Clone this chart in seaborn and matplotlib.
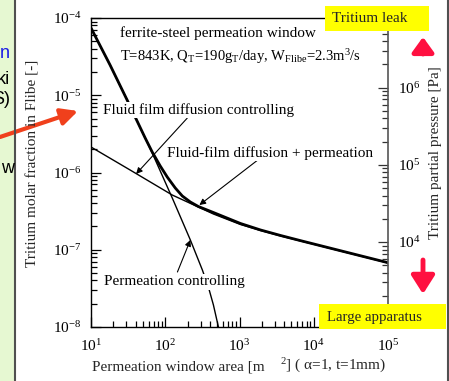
import numpy as np
import pandas as pd
import matplotlib
matplotlib.use("Agg")
import matplotlib.pyplot as plt
import seaborn as sns
from matplotlib.ticker import LogLocator, NullFormatter
from matplotlib.patches import Rectangle, FancyArrowPatch
from matplotlib.lines import Line2D

# ---- data: tritium molar fraction in Flibe vs permeation window area [m^2] ----
# permeation controlling
area_perm = [10, 18.06, 30.65, 39.33, 66.73, 124.3, 217.7, 316.2, 381.1, 445.3, 520.2]
frac_perm = [7.43e-5, 2.46e-5, 8.68e-6, 5.23e-6, 1.79e-6, 4.68e-7, 1.34e-7,
             5.47e-8, 3.29e-8, 1.93e-8, 1.0e-8]

# fluid film diffusion controlling
area_film = [10, 33.65, 124.3, 445.3, 1031.6, 1922, 3582, 6674, 1.0e5]
frac_film = [2.138e-6, 1.077e-6, 5.11e-7, 2.903e-7, 2.122e-7, 1.775e-7,
             1.507e-7, 1.298e-7, 6.74e-8]

# fluid-film diffusion + permeation
area_both = [10, 18.06, 30.65, 39.33, 53.67, 66.73, 85.6, 106.4, 136.5, 169.7,
             217.7, 279.2, 445.3, 1031.6, 1922, 3582, 6674, 1.0e5]
frac_both = [7.43e-5, 2.464e-5, 8.68e-6, 5.23e-6, 2.797e-6, 1.842e-6, 1.214e-6,
             8.74e-7, 6.30e-7, 4.965e-7, 4.150e-7, 3.630e-7, 3.035e-7,
             2.187e-7, 1.802e-7, 1.529e-7, 1.310e-7, 6.80e-8]

# partial pressure [Pa] per unit molar fraction (right-hand axis)
pressure_per_fraction = 10 ** 10.9

x_ticks = [1e1, 1e2, 1e3, 1e4, 1e5]
y_ticks = [1e-8, 1e-7, 1e-6, 1e-5, 1e-4]
p_ticks = [1e4, 1e5, 1e6]

df = pd.concat([
    pd.DataFrame({"area": area_perm, "frac": frac_perm, "model": "perm"}),
    pd.DataFrame({"area": area_film, "frac": frac_film, "model": "film"}),
    pd.DataFrame({"area": area_both, "frac": frac_both, "model": "both"}),
], ignore_index=True)

sns.set_style("ticks")
plt.rcParams["font.family"] = ["Liberation Serif", "DejaVu Serif"]
plt.rcParams["mathtext.fontset"] = "custom"
plt.rcParams["mathtext.rm"] = "Liberation Serif"
plt.rcParams["mathtext.it"] = "Liberation Serif:italic"
plt.rcParams["mathtext.default"] = "regular"

W, H = 449, 381
fig = plt.figure(figsize=(W / 100, H / 100), dpi=100)
fig.patch.set_facecolor("white")

ax = fig.add_axes([91 / W, 1 - 327 / H, 297 / W, 309 / H])
ax.set_xscale("log")
ax.set_yscale("log")

sns.lineplot(data=df[df.model == "perm"], x="area", y="frac", ax=ax,
             color="black", lw=1.0, sort=False, estimator=None)
sns.lineplot(data=df[df.model == "film"], x="area", y="frac", ax=ax,
             color="black", lw=1.0, sort=False, estimator=None)
sns.lineplot(data=df[df.model == "both"], x="area", y="frac", ax=ax,
             color="black", lw=2.0, sort=False, estimator=None)
for ln in ax.lines:
    ln.set_solid_joinstyle("round")

ax.set_xlim(x_ticks[0], x_ticks[-1])
ax.set_ylim(y_ticks[0], y_ticks[-1])
ax.set_xlabel("")
ax.set_ylabel("")
ax.set_xticks(x_ticks)
ax.set_yticks(y_ticks)
ax.xaxis.set_minor_locator(LogLocator(base=10, subs=np.arange(2, 10)))
ax.yaxis.set_minor_locator(LogLocator(base=10, subs=np.arange(2, 10)))
ax.xaxis.set_minor_formatter(NullFormatter())
ax.yaxis.set_minor_formatter(NullFormatter())
ax.tick_params(which="both", direction="in", top=False, right=False,
               width=0.9, colors="black", labelsize=11)
ax.tick_params(which="major", length=7)
ax.tick_params(which="minor", length=4)
ax.tick_params(axis="y", pad=7)
ax.tick_params(axis="x", pad=8)
for s in ["left", "bottom", "top"]:
    ax.spines[s].set_linewidth(1.0)
    ax.spines[s].set_color("black")
ax.spines["right"].set_visible(False)

# right-hand axis: tritium partial pressure
ax2 = ax.twinx()
ax2.set_yscale("log")
ax2.set_ylim(y_ticks[0] * pressure_per_fraction, y_ticks[-1] * pressure_per_fraction)
ax2.set_yticks(p_ticks)
ax2.yaxis.set_minor_locator(LogLocator(base=10, subs=np.arange(2, 10)))
ax2.yaxis.set_minor_formatter(NullFormatter())
ax2.tick_params(which="both", direction="in", width=0.9, colors="#333333",
                labelcolor="black", labelsize=11, pad=7)
ax2.tick_params(which="major", length=7)
ax2.tick_params(which="minor", length=4)
for s in ["left", "bottom", "top"]:
    ax2.spines[s].set_visible(False)
ax2.spines["right"].set_color("#555555")
ax2.spines["right"].set_linewidth(1.2)

# annotations
txt = dict(color="black", transform=ax.transAxes, va="center")
ax.text(0.098, 0.950, "ferrite-steel permeation window", fontsize=11, **txt)
ax.text(0.098, 0.874,
        r"T=843K, Q$_{\rm T}$=190g$_{\rm T}$/day, W$_{\rm Flibe}$=2.3m$^{3}$/s",
        fontsize=10.5, **txt)
box = dict(facecolor="white", edgecolor="none", pad=1)
ax.text(0.041, 0.702, "Fluid film diffusion controlling", bbox=box, zorder=5,
        fontsize=11, **txt)
ax.text(0.257, 0.563, "Fluid-film diffusion + permeation", bbox=box, zorder=5,
        fontsize=11, **txt)
ax.text(0.044, 0.146, "Permeation controlling", bbox=box, zorder=5,
        fontsize=11, **txt)

arr = dict(arrowstyle="-|>", lw=0.8, color="black", mutation_scale=9,
           shrinkA=0, shrinkB=0)
ax.annotate("", xy=(40.5, 9.57e-7), xycoords="data",
            xytext=(0.324, 0.676), textcoords="axes fraction", arrowprops=arr)
ax.annotate("", xy=(288, 3.79e-7), xycoords="data",
            xytext=(0.561, 0.540), textcoords="axes fraction", arrowprops=arr)
ax.annotate("", xy=(218, 1.34e-7), xycoords="data",
            xytext=(0.291, 0.178), textcoords="axes fraction", arrowprops=arr)

# axis titles
fig.text(33 / W, 1 - 163 / H, "Tritium molar fraction in Flibe [-]",
         rotation=90, ha="center", va="center", fontsize=11)
fig.text(435 / W, 1 - 153 / H, "Tritium partial pressure [Pa]",
         rotation=90, ha="center", va="center", fontsize=11)
fig.text(92 / W, 1 - 367 / H, "Permeation window area [m", ha="left",
         va="center", fontsize=11)
fig.text(280 / W, 1 - 366 / H, r"$^{2}$] ( $\alpha$=1, t=1mm)", ha="left",
         va="center", fontsize=11)

# slide decorations around the chart
fig.patches.append(Rectangle((0, 0), 14 / W, 1, transform=fig.transFigure,
                             facecolor="#e6f8d2", edgecolor="none", zorder=0))
fig.add_artist(Line2D([15 / W, 15 / W], [0, 1], transform=fig.transFigure,
                      color="#505050", lw=1.5))
fig.add_artist(Line2D([447.5 / W, 447.5 / W], [0, 1], transform=fig.transFigure,
                      color="#505050", lw=1.5))
side = dict(fontsize=13, family=["Liberation Sans", "DejaVu Sans"], ha="right",
            va="center")
fig.text(10 / W, 1 - 54 / H, "n", color="#1a1ae6", **side)
fig.text(10 / W, 1 - 79 / H, "ki", color="black", **side)
fig.text(10 / W, 1 - 100 / H, "S)", color="black", **side)
fig.text(14 / W, 1 - 169 / H, "w", color="black", **side)

fig.add_artist(FancyArrowPatch((0, H - 137), (78, H - 111), transform=None,
                               arrowstyle="-|>,head_length=10,head_width=5",
                               lw=3, color="#f0401c", shrinkA=0, shrinkB=0,
                               mutation_scale=1))

fig.patches.append(Rectangle((325 / W, 1 - 31 / H), 104 / W, 25 / H,
                             transform=fig.transFigure, facecolor="#ffff00",
                             edgecolor="none", zorder=10))
fig.text(370 / W, 1 - 18 / H, "Tritium leak", ha="center", va="center",
         fontsize=11, zorder=11)
fig.patches.append(Rectangle((319 / W, 1 - 329 / H), 127 / W, 25 / H,
                             transform=fig.transFigure, facecolor="#ffff00",
                             edgecolor="none", zorder=10))
fig.text(327 / W, 1 - 317 / H, "Large apparatus", ha="left", va="center",
         fontsize=10.7, zorder=11)

fig.add_artist(FancyArrowPatch((423, H - 54), (423, H - 37), transform=None,
                               arrowstyle="-|>,head_length=9,head_width=6.5",
                               lw=3.5, color="#ff1040", shrinkA=0, shrinkB=0,
                               mutation_scale=1))
fig.add_artist(FancyArrowPatch((423, H - 260), (423, H - 294), transform=None,
                               arrowstyle="-|>,head_length=11,head_width=7",
                               lw=3.5, color="#ff1040", shrinkA=0, shrinkB=0,
                               mutation_scale=1))

fig.savefig("out.png", dpi=100)
